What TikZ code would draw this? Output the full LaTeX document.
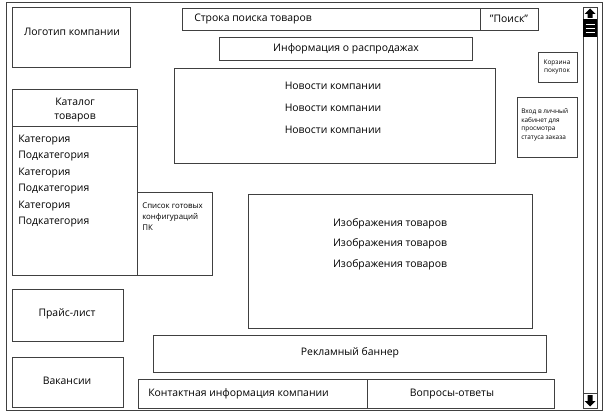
\documentclass[tikz,border=0pt]{standalone}
\usepackage{fontspec}
\setmainfont{Open Sans}
\usetikzlibrary{positioning,calc}

\tikzset{
  frame/.style={draw=black!75, line width=0.65pt},
  lbl/.style={inner sep=0pt, font=\fontsize{7.4}{9}\selectfont},
  small/.style={inner sep=0pt, align=left, font=\fontsize{5.6}{7.8}\selectfont},
  tiny/.style={inner sep=0pt, align=left, font=\fontsize{4.6}{6.1}\selectfont},
}

\begin{document}
\begin{tikzpicture}[x=0.025cm, y=-0.025cm]
    \useasboundingbox (0,0) rectangle (605,413);
    % outer window
    \draw[frame] (6,2) rectangle (602,410);
    % header
    \draw[frame] (12,7) rectangle (130,67);
    \node[lbl] (logo) at (72,32) {Логотип компании};
    \draw[frame] (182,8) rectangle (480,30);
    \node[lbl, anchor=west] (search) at (194,19) {Строка поиска товаров};
    \draw[frame] (480,8) rectangle (538,30);
    \node[lbl] (find) at (509,19) {"Поиск"};
    \draw[frame] (219,37) rectangle (472,60);
    \node[lbl] (sales) at (346,49) {Информация о распродажах};
    % news
    \draw[frame] (174,68) rectangle (495,163);
    \node[lbl] (news1) at (333,86) {Новости компании};
    \node[lbl] (news2) at (333,108) {Новости компании};
    \node[lbl] (news3) at (333,130) {Новости компании};
    % cart and login
    \draw[frame] (538,52) rectangle (577,82);
    \node[tiny, align=center] (cart) at (557,67) {Корзина\\покупок};
    \draw[frame] (517,97) rectangle (577,157);
    \node[tiny, anchor=west] (login) at (521,125)
      {Вход в личный\\кабинет для\\просмотра\\статуса заказа};
    % catalog
    \draw[frame] (12,89) rectangle (137,126);
    \node[lbl, align=center] (catalog) at (75,110) {Каталог\\[1pt]товаров};
    \draw[frame] (12,126) rectangle (137,275);
    \foreach \i/\y in {1/140,2/173,3/206} {
      \node[lbl, anchor=west] (cat\i) at (18,\y) {Категория};
      \node[lbl, anchor=west] (sub\i) at (18,\y+16) {Подкатегория};
    }
    \draw[frame] (137,192) rectangle (212,275);
    \node[small, anchor=north west] (configs) at (142,203)
      {Список готовых\\конфигураций\\ПК};
    % goods
    \draw[frame] (248,194) rectangle (532,328);
    \node[lbl] (img1) at (390,224) {Изображения товаров};
    \node[lbl] (img2) at (390,244) {Изображения товаров};
    \node[lbl] (img3) at (390,265) {Изображения товаров};
    % left column
    \draw[frame] (12,289) rectangle (123,341);
    \node[lbl] (prices) at (67,314) {Прайс-лист};
    \draw[frame] (12,357) rectangle (123,407);
    \node[lbl] (jobs) at (67,381) {Вакансии};
    % footer
    \draw[frame] (153,335) rectangle (546,372);
    \node[lbl] (banner) at (350,353) {Рекламный баннер};
    \draw[frame] (138,379) rectangle (367,408);
    \node[lbl, anchor=west] (contacts) at (148,394) {Контактная информация компании};
    \draw[frame] (367,379) rectangle (554,408);
    \node[lbl] (faq) at (452,394) {Вопросы-ответы};
    % scroll bar
    \draw[frame] (583,7) rectangle (597,408);
    \draw[frame] (583,19) -- (597,19);
    \draw[frame] (583,393) -- (597,393);
    \fill (590,8.5) -- (595.5,14) -- (592.5,14) -- (592.5,18) -- (587.5,18)
      -- (587.5,14) -- (584.5,14) -- cycle;
    \fill (590,406.5) -- (595.5,401) -- (592.5,401) -- (592.5,395) -- (587.5,395)
      -- (587.5,401) -- (584.5,401) -- cycle;
    \fill (583,19) rectangle (597,37);
    \foreach \y in {24,28,32}
      \draw[white, line width=0.6pt] (585.5,\y) -- (594.5,\y);
\end{tikzpicture}
\end{document}
